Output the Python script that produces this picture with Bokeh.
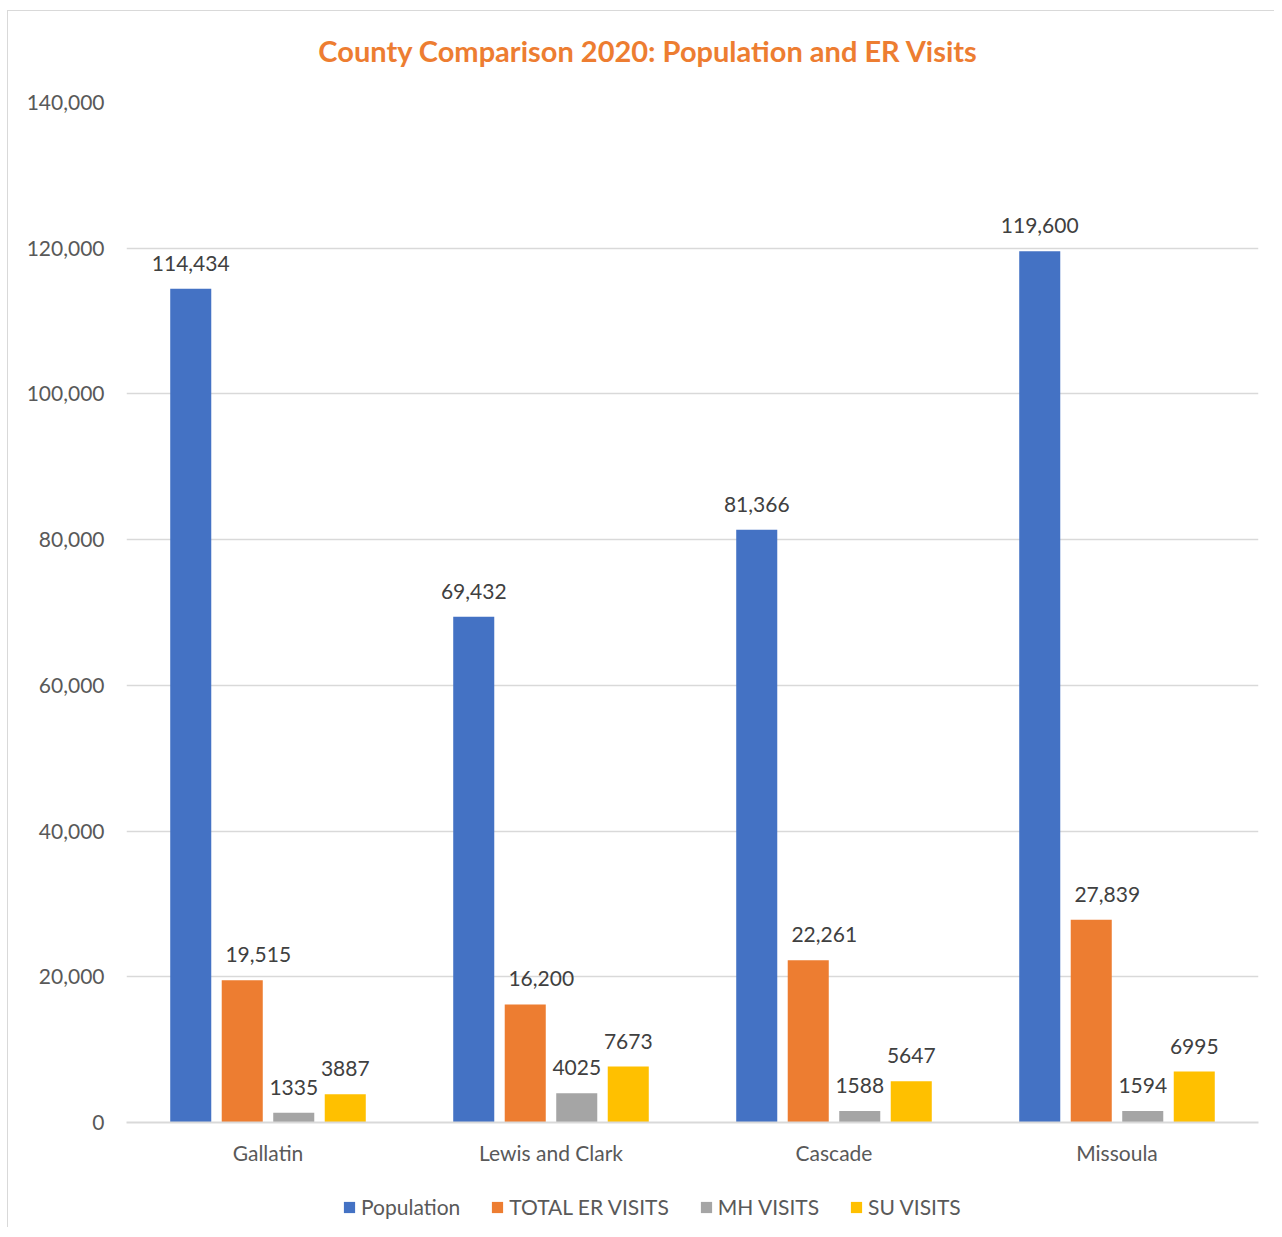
from bokeh.plotting import figure
from bokeh.layouts import column
from bokeh.models import (ColumnDataSource, LabelSet, Label, NumeralTickFormatter, Legend,
                          LegendItem, FixedTicker, Range1d)
from bokeh.core.properties import value
from bokeh.transform import dodge
from bokeh.embed import file_html
from bokeh.resources import INLINE

counties = ["Gallatin", "Lewis and Clark", "Cascade", "Missoula"]
population = [114434, 69432, 81366, 119600]
total_er = [19515, 16200, 22261, 27839]
mh_visits = [1335, 4025, 1588, 1594]
su_visits = [3887, 7673, 5647, 6995]
y_ticks = [0, 20000, 40000, 60000, 80000, 100000, 120000, 140000]
series_names = ["Population", "TOTAL ER VISITS", "MH VISITS", "SU VISITS"]
series_colors = ["#4472C4", "#ED7D31", "#A5A5A5", "#FFC000"]
title_text = "County Comparison 2020: Population and ER Visits"

FONT = "Lato"
W = 1266

src = ColumnDataSource(dict(
    county=counties,
    population=population,
    total_er=total_er,
    mh=mh_visits,
    su=su_visits,
    pop_lbl=[f"{v:,}" for v in population],
    er_lbl=[f"{v:,}" for v in total_er],
    mh_lbl=[str(v) for v in mh_visits],
    su_lbl=[str(v) for v in su_visits],
))

def blank(h):
    f = figure(width=W, height=h, x_range=Range1d(0, W), y_range=Range1d(0, h),
               output_backend="svg", toolbar_location=None,
               x_axis_location=None, y_axis_location=None,
               min_border=0, min_border_left=0, min_border_right=0,
               min_border_top=0, min_border_bottom=0)
    f.grid.visible = False
    f.outline_line_color = None
    return f

# title strip (its frame is aligned with the main frame by the column layout)
t = blank(76)
t.add_layout(Label(x=522, y=37, x_units="screen", y_units="screen", text=title_text,
                   text_align="center", text_baseline="middle", text_color="#ED7D31",
                   text_font=FONT, text_font_size="29px", text_font_style="bold"))

# main chart
p = figure(x_range=counties, y_range=(0, 140000), frame_width=1132, frame_height=1020,
           output_backend="svg", toolbar_location=None,
           min_border_left=118, min_border_right=16, min_border_top=15, min_border_bottom=45)
p.x_range.range_padding = 0
p.outline_line_color = None

cols = [("population", "pop_lbl", -0.273, 0), ("total_er", "er_lbl", -0.091, 16),
        ("mh", "mh_lbl", 0.091, 0), ("su", "su_lbl", 0.273, 0)]
for (col, lbl, off, xo), color in zip(cols, series_colors):
    p.vbar(x=dodge("county", off, range=p.x_range), top=col, width=0.145,
           source=src, fill_color=color, line_color=None)
    p.add_layout(LabelSet(x=dodge("county", off, range=p.x_range), y=col, text=lbl,
                          source=src, text_align="center", text_baseline="alphabetic",
                          x_offset=xo, y_offset=18, text_font=value(FONT), text_font_size="21px",
                          text_color="#404040"))

p.xgrid.grid_line_color = None
p.ygrid.grid_line_color = "#d9d9d9"
p.ygrid.grid_line_width = 1.5
p.yaxis.ticker = FixedTicker(ticks=y_ticks)
p.yaxis.formatter = NumeralTickFormatter(format="0,0")
p.yaxis.axis_line_color = None
p.yaxis.major_tick_line_color = None
p.yaxis.minor_tick_line_color = None
p.yaxis.major_label_standoff = 16
p.yaxis.major_label_text_font = FONT
p.yaxis.major_label_text_font_size = "21px"
p.yaxis.major_label_text_color = "#595959"

p.xaxis.axis_line_color = "#d9d9d9"
p.xaxis.axis_line_width = 2
p.xaxis.major_tick_line_color = None
p.xaxis.minor_tick_line_color = None
p.xaxis.major_label_standoff = 11
p.xaxis.major_label_text_font = FONT
p.xaxis.major_label_text_font_size = "21px"
p.xaxis.major_label_text_color = "#595959"

# legend strip: proxy renderers placed outside the visible range
lg = blank(60)
items = []
for name, color in zip(series_names, series_colors):
    r = lg.vbar(x=[-5000], top=[-5000], bottom=[-5001], width=1, fill_color=color, line_color=None)
    items.append(LegendItem(label=name, renderers=[r]))
legend = Legend(items=items, orientation="horizontal", location=(216, 8),
                glyph_width=14, glyph_height=14, label_standoff=5, spacing=30,
                label_text_font=FONT, label_text_font_size="21px", label_text_color="#595959",
                border_line_color=None, background_fill_alpha=0, padding=0, margin=0)
lg.add_layout(legend, "center")

layout = column(t, p, lg, spacing=0)
layout.styles = {"border-left": "1px solid #d9d9d9", "border-top": "1px solid #d9d9d9"}
layout.margin = (10, 0, 0, 7)

open("out.html", "w").write(file_html(layout, INLINE))
